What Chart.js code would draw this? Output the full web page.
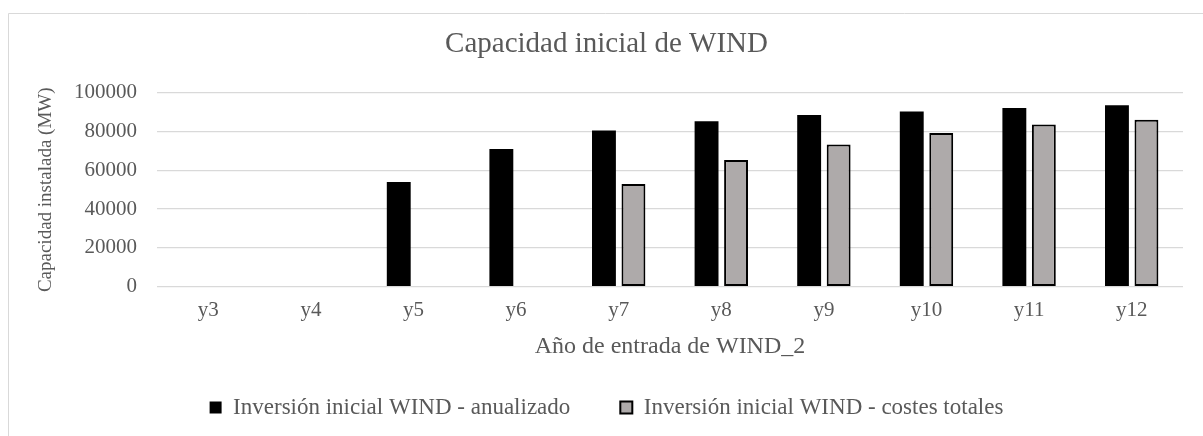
<!DOCTYPE html>
<html lang="es">
<head>
<meta charset="utf-8">
<title>Capacidad inicial de WIND</title>
<script src="https://cdn.jsdelivr.net/npm/chart.js@4.4.1/dist/chart.umd.min.js"></script>
<style>
  html, body { margin: 0; padding: 0; background: #ffffff; }
  #wrap { width: 1203px; height: 436px; }
</style>
</head>
<body>
<div id="wrap"><canvas id="chart" width="1203" height="436"></canvas></div>
<script>
// Año de entrada de WIND_2
const categories = ['y3', 'y4', 'y5', 'y6', 'y7', 'y8', 'y9', 'y10', 'y11', 'y12'];

// Capacidad instalada (MW) por escenario
const anualizado = [null, null, 54000, 71000, 80500, 85300, 88500, 90400, 92100, 93600];
const costesTotales = [null, null, null, null, 53000, 65400, 73300, 79300, 83600, 86100];

const seriesNames = ['Inversión inicial WIND - anualizado', 'Inversión inicial WIND - costes totales'];

// Eje Y
const yTicks = [0, 20000, 40000, 60000, 80000, 100000];

const FONT = '"Liberation Serif", "Times New Roman", serif';
const TEXT = '#595959';
const GRID = '#d9d9d9';

// Marco exterior del gráfico
const frame = {
  id: 'frame',
  beforeDraw(chart) {
    const ctx = chart.ctx;
    ctx.save();
    ctx.fillStyle = '#ffffff';
    ctx.fillRect(0, 0, chart.width, chart.height);
    ctx.strokeStyle = GRID;
    ctx.lineWidth = 1;
    ctx.beginPath();
    ctx.moveTo(8.5, chart.height);
    ctx.lineTo(8.5, 13.5);
    ctx.lineTo(chart.width, 13.5);
    ctx.stroke();
    ctx.restore();
  }
};

new Chart(document.getElementById('chart'), {
  type: 'bar',
  data: {
    labels: categories,
    datasets: [
      {
        label: seriesNames[0],
        data: anualizado,
        backgroundColor: '#000000',
        borderColor: '#000000',
        borderWidth: 0,
        categoryPercentage: 0.575,
        barPercentage: 0.81
      },
      {
        label: seriesNames[1],
        data: costesTotales,
        backgroundColor: '#aeaaaa',
        borderColor: '#000000',
        borderWidth: 2,
        borderSkipped: false,
        categoryPercentage: 0.575,
        barPercentage: 0.81
      }
    ]
  },
  options: {
    responsive: false,
    devicePixelRatio: 1,
    animation: false,
    events: [],
    layout: { padding: { left: 30, right: 20, top: 0, bottom: 7 } },
    plugins: {
      title: {
        display: true,
        text: 'Capacidad inicial de WIND',
        color: TEXT,
        font: { family: FONT, size: 29, weight: 'normal' },
        padding: { top: 27, bottom: 31 }
      },
      legend: {
        display: true,
        position: 'bottom',
        labels: {
          color: TEXT,
          font: { family: FONT, size: 23 },
          boxWidth: 12,
          boxHeight: 12,
          padding: 50
        }
      },
      tooltip: { enabled: false }
    },
    scales: {
      x: {
        grid: { display: false, drawTicks: false },
        border: { display: false },
        ticks: {
          color: TEXT,
          font: { family: FONT, size: 21 },
          padding: 11,
          maxRotation: 0
        },
        title: {
          display: true,
          text: 'Año de entrada de WIND_2',
          color: TEXT,
          font: { family: FONT, size: 24 },
          padding: { top: 0, bottom: -15.4 }
        },
        afterFit(scale) { scale.height = 59.3; }
      },
      y: {
        min: 0,
        max: 100000,
        grid: { color: GRID, lineWidth: 1.3, drawTicks: false },
        border: { display: false },
        afterBuildTicks(scale) { scale.ticks = yTicks.map(v => ({ value: v })); },
        ticks: {
          color: TEXT,
          font: { family: FONT, size: 21 },
          padding: 20,
          callback: (v) => String(v)
        },
        title: {
          display: true,
          text: 'Capacidad instalada (MW)',
          color: TEXT,
          font: { family: FONT, size: 19 },
          padding: { top: 5, bottom: 0 }
        },
        afterFit(scale) { scale.width = 127; }
      }
    }
  },
  plugins: [frame]
});
</script>
</body>
</html>
